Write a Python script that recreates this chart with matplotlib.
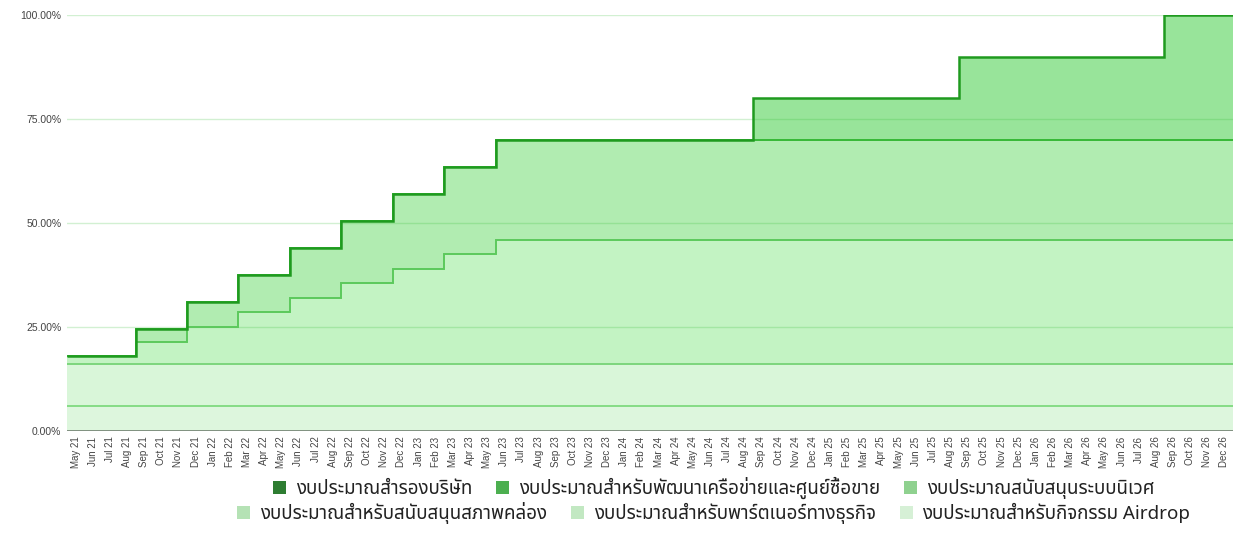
# stacked step area chart: token budget release schedule (Thai legend)

import matplotlib
matplotlib.use("Agg")
import matplotlib.pyplot as plt
from matplotlib import font_manager
from matplotlib.ft2font import FT2Font
from matplotlib.patches import Patch
import numpy as np
import pandas as pd

months = [
    "May 21", "Jun 21", "Jul 21", "Aug 21", "Sep 21", "Oct 21", "Nov 21", "Dec 21",
    "Jan 22", "Feb 22", "Mar 22", "Apr 22", "May 22", "Jun 22", "Jul 22", "Aug 22",
    "Sep 22", "Oct 22", "Nov 22", "Dec 22",
    "Jan 23", "Feb 23", "Mar 23", "Apr 23", "May 23", "Jun 23", "Jul 23", "Aug 23",
    "Sep 23", "Oct 23", "Nov 23", "Dec 23",
    "Jan 24", "Feb 24", "Mar 24", "Apr 24", "May 24", "Jun 24", "Jul 24", "Aug 24",
    "Sep 24", "Oct 24", "Nov 24", "Dec 24",
    "Jan 25", "Feb 25", "Mar 25", "Apr 25", "May 25", "Jun 25", "Jul 25", "Aug 25",
    "Sep 25", "Oct 25", "Nov 25", "Dec 25",
    "Jan 26", "Feb 26", "Mar 26", "Apr 26", "May 26", "Jun 26", "Jul 26", "Aug 26",
    "Sep 26", "Oct 26", "Nov 26", "Dec 26",
]

# release steps (month where the value changes -> % of supply)
reserve_steps = {"May 21": 0, "Sep 24": 10, "Sep 25": 20, "Sep 26": 30}
network_steps = {"May 21": 0, "Sep 21": 3, "Dec 21": 6, "Mar 22": 9, "Jun 22": 12,
                 "Sep 22": 15, "Dec 22": 18, "Mar 23": 21, "Jun 23": 24}
ecosystem_steps = {"May 21": 2, "Sep 21": 5.5, "Dec 21": 9, "Mar 22": 12.5, "Jun 22": 16,
                   "Sep 22": 19.5, "Dec 22": 23, "Mar 23": 26.5, "Jun 23": 30}
liquidity_steps = {"May 21": 10}
partner_steps = {"May 21": 6}
airdrop_steps = {"May 21": 0}

labels = [
    "งบประมาณสำรองบริษัท",
    "งบประมาณสำหรับพัฒนาเครือข่ายและศูนย์ซื้อขาย",
    "งบประมาณสนับสนุนระบบนิเวศ",
    "งบประมาณสำหรับสนับสนุนสภาพคล่อง",
    "งบประมาณสำหรับพาร์ตเนอร์ทางธุรกิจ",
    "งบประมาณสำหรับกิจกรรม Airdrop",
]
legend_colors = ["#2e7d32", "#4caf50", "#8fd18f", "#b5e2b5", "#c2e8c2", "#d6f0d6"]
fill_colors = ["#98e49a", "#b1ecb1", "#c3f3c3", "#d9f6d9", "#ddf6dd", "#e2f7e2"]
line_colors = ["#1f9a1f", "#36b836", "#5cc95c", "#7dd67d", "#85dc85", "#9be29b"]


def thai_font():
    found = []
    for f in font_manager.fontManager.ttflist:
        try:
            if ord("ง") in FT2Font(f.fname).get_charmap():
                found.append(f.name)
        except Exception:
            pass
    for pref in ["Noto Sans Thai", "Noto Sans Thai UI", "Tahoma", "Leelawadee UI",
                 "Loma", "Garuda", "Norasi"]:
        if pref in found:
            return pref
    return found[0] if found else "DejaVu Sans"


def expand(steps):
    s = pd.Series(steps).reindex(months).ffill()
    return s.to_numpy(dtype=float)


series = [expand(s) for s in [reserve_steps, network_steps, ecosystem_steps,
                              liquidity_steps, partner_steps, airdrop_steps]]

tfont = thai_font()

fig = plt.figure(figsize=(12.37, 5.51), dpi=100)
ax = fig.add_axes([67 / 1237, 120 / 551, 1166 / 1237, 416 / 551])

edges = np.arange(len(months) + 1)
# stack from the bottom (last legend entry) upwards
base = np.zeros(len(months))
tops = []
for i in range(len(series) - 1, -1, -1):
    top = base + series[i]
    ax.stairs(top, edges, baseline=base, fill=True, color=fill_colors[i], lw=0, zorder=1)
    tops.append((i, top))
    base = top
for i, top in tops:
    ax.stairs(top, edges, baseline=None, color=line_colors[i],
              lw=1.8 if i == 0 else 1.4, zorder=4)

for g in [25, 50, 75, 100]:
    ax.axhline(g, color="#33bb33", alpha=0.22, lw=1, zorder=3)
ax.axhline(0, color="#7a7a7a", lw=1.8, zorder=5)

ax.set_xlim(0, len(months))
ax.set_ylim(0, 100)
ax.set_yticks([0, 25, 50, 75, 100])
ax.set_yticklabels(["0.00%", "25.00%", "50.00%", "75.00%", "100.00%"],
                   fontsize=7.5, color="#444444", family="Liberation Sans")
ax.set_xticks(edges[:-1] + 0.5)
ax.set_xticklabels(months, rotation=90, fontsize=7, color="#444444", family="Liberation Sans")
ax.tick_params(length=0, pad=4)
for sp in ax.spines.values():
    sp.set_visible(False)

handles = [Patch(facecolor=c, edgecolor="none") for c in legend_colors]
leg_font = {"family": [tfont, "Liberation Sans"], "size": 13.5}
for row, y in [(slice(0, 3), 0.114), (slice(3, 6), 0.069)]:
    fig.legend(handles[row], labels[row], loc="center", bbox_to_anchor=(0.577, y),
               ncol=3, frameon=False, prop=leg_font, handlelength=0.7, handleheight=0.7,
               handletextpad=0.5, columnspacing=1.3, labelcolor="#222222")

fig.savefig("out.png", dpi=100)
